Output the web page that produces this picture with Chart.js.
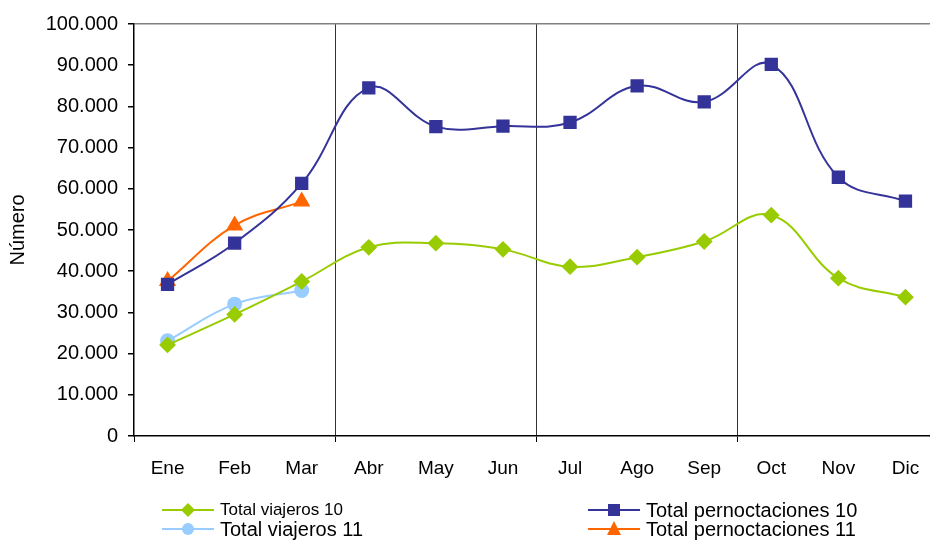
<!DOCTYPE html>
<html>
<head>
<meta charset="utf-8">
<title>Viajeros y pernoctaciones</title>
<script src="https://cdn.jsdelivr.net/npm/chart.js@4.4.1/dist/chart.umd.min.js"></script>
<style>
  html, body { margin: 0; padding: 0; overflow: hidden; background: #fff; }
  #wrap { position: relative; width: 930px; height: 541px; overflow: hidden; }
  #myChart { position: absolute; left: 0; top: 0; }
  .leg { position: absolute; font-family: "Liberation Sans", Arial, sans-serif; color: #000; white-space: nowrap; }
  .leg svg { position: absolute; left: 0; top: 0; }
  .leg span { position: absolute; }
</style>
</head>
<body>
<div id="wrap">
  <canvas id="myChart" width="949" height="541"></canvas>
  <div id="legendBox"></div>
</div>
<script>
'use strict';

// months on the x axis
let months = ['Ene', 'Feb', 'Mar', 'Abr', 'May', 'Jun', 'Jul', 'Ago', 'Sep', 'Oct', 'Nov', 'Dic'];

// values
let viajeros10 = [22100, 29500, 37500, 45800, 46800, 45300, 41100, 43400, 47200, 53600, 38300, 33700];
let pernoct10 = [36800, 46800, 61300, 84500, 75100, 75200, 76100, 85000, 81100, 90200, 62800, 57000];
let viajeros11 = [23100, 32000, 35300];
let pernoct11 = [37600, 51100, 56900];

// y axis ticks
let yMin = 0;
let yMax = 100000;
let yStep = 10000;

let fontName = '"Liberation Sans", Arial, sans-serif';

function puntoMiles(v){
  return String(v).replace(/\B(?=(\d{3})+(?!\d))/g, '.');
}

const ctx = document.getElementById('myChart').getContext('2d');

new Chart(ctx, {
  type: 'line',
  data: {
    labels: months,
    datasets: [
      {
        label: 'Total viajeros 10',
        data: viajeros10,
        borderColor: '#99CC00',
        backgroundColor: '#99CC00',
        borderWidth: 2,
        pointStyle: 'rectRot',
        pointRadius: 7,
        tension: 0.4
      },
      {
        label: 'Total pernoctaciones 10',
        data: pernoct10,
        borderColor: '#333399',
        backgroundColor: '#333399',
        borderWidth: 2,
        pointStyle: 'rect',
        pointRadius: 8,
        tension: 0.4
      },
      {
        label: 'Total viajeros 11',
        data: viajeros11,
        borderColor: '#99CCFF',
        backgroundColor: '#99CCFF',
        borderWidth: 2,
        pointStyle: 'circle',
        pointRadius: 6.5,
        tension: 0.4
      },
      {
        label: 'Total pernoctaciones 11',
        data: pernoct11,
        borderColor: '#FF6600',
        backgroundColor: '#FF6600',
        borderWidth: 2,
        pointStyle: 'triangle',
        pointRadius: 8,
        tension: 0.4
      }
    ]
  },
  options: {
    responsive: false,
    animation: false,
    layout: { padding: { left: 6, top: 24, right: 0, bottom: 60 } },
    plugins: {
      legend: { display: false },
      tooltip: { enabled: false }
    },
    scales: {
      x: {
        offset: true,
        grid: {
          offset: true,
          drawOnChartArea: true,
          lineWidth: 1,
          tickLength: 6,
          color: function(c){ return (c.index === 3 || c.index === 6 || c.index === 9) ? '#333' : 'rgba(0,0,0,0)'; },
          tickColor: function(c){ return (c.index % 3 === 0 && c.index < 12) ? '#000' : 'rgba(0,0,0,0)'; }
        },
        border: { color: '#000', width: 1.5 },
        ticks: {
          color: '#000',
          font: { family: fontName, size: 19 },
          padding: 15,
          maxRotation: 0,
          autoSkip: false
        },
        afterFit: function(scale){ scale.height = 45; }
      },
      y: {
        min: yMin,
        max: yMax,
        grid: {
          lineWidth: 1.5,
          tickLength: 6,
          color: function(c){ return (c.tick && c.tick.value === yMax) ? '#808080' : 'rgba(0,0,0,0)'; },
          tickColor: '#000'
        },
        border: { color: '#000', width: 1.5 },
        ticks: {
          stepSize: yStep,
          color: '#000',
          font: { family: fontName, size: 20 },
          padding: 10,
          callback: function(v){ return puntoMiles(v); }
        },
        title: {
          display: true,
          text: 'Número',
          color: '#000',
          font: { family: fontName, size: 20 },
          padding: 0
        },
        afterFit: function(scale){ scale.width = 128; }
      }
    }
  }
});

// legend in two columns under the chart, like the original
let legendItems = [
  { text: 'Total viajeros 10', color: '#99CC00', marker: 'diamond', x: 162, y: 510, size: 17 },
  { text: 'Total viajeros 11', color: '#99CCFF', marker: 'circle', x: 162, y: 529, size: 20 },
  { text: 'Total pernoctaciones 10', color: '#333399', marker: 'square', x: 588, y: 510, size: 20 },
  { text: 'Total pernoctaciones 11', color: '#FF6600', marker: 'triangle', x: 588, y: 529, size: 20 }
];

function markerSvg(kind, color){
  let m = '';
  if(kind === 'diamond'){
    m = '<polygon points="26,3 33,10 26,17 19,10" fill="' + color + '"/>';
  } else if(kind === 'circle'){
    m = '<circle cx="26" cy="10" r="6" fill="' + color + '"/>';
  } else if(kind === 'square'){
    m = '<rect x="20" y="4" width="12" height="12" fill="' + color + '"/>';
  } else {
    m = '<polygon points="26,2 33,16 19,16" fill="' + color + '"/>';
  }
  return '<svg width="52" height="20" viewBox="0 0 52 20"><line x1="0" y1="10" x2="52" y2="10" stroke="' + color + '" stroke-width="2"/>' + m + '</svg>';
}

let legendBox = document.getElementById('legendBox');
for(let i = 0; i < legendItems.length; i++){
  let it = legendItems[i];
  let el = document.createElement('div');
  el.className = 'leg';
  el.style.left = it.x + 'px';
  el.style.top = (it.y - 10) + 'px';
  el.innerHTML = markerSvg(it.marker, it.color);
  let span = document.createElement('span');
  span.textContent = it.text;
  span.style.left = '58px';
  span.style.fontSize = it.size + 'px';
  span.style.lineHeight = '20px';
  span.style.top = '0px';
  el.append(span);
  legendBox.append(el);
}
</script>
</body>
</html>
